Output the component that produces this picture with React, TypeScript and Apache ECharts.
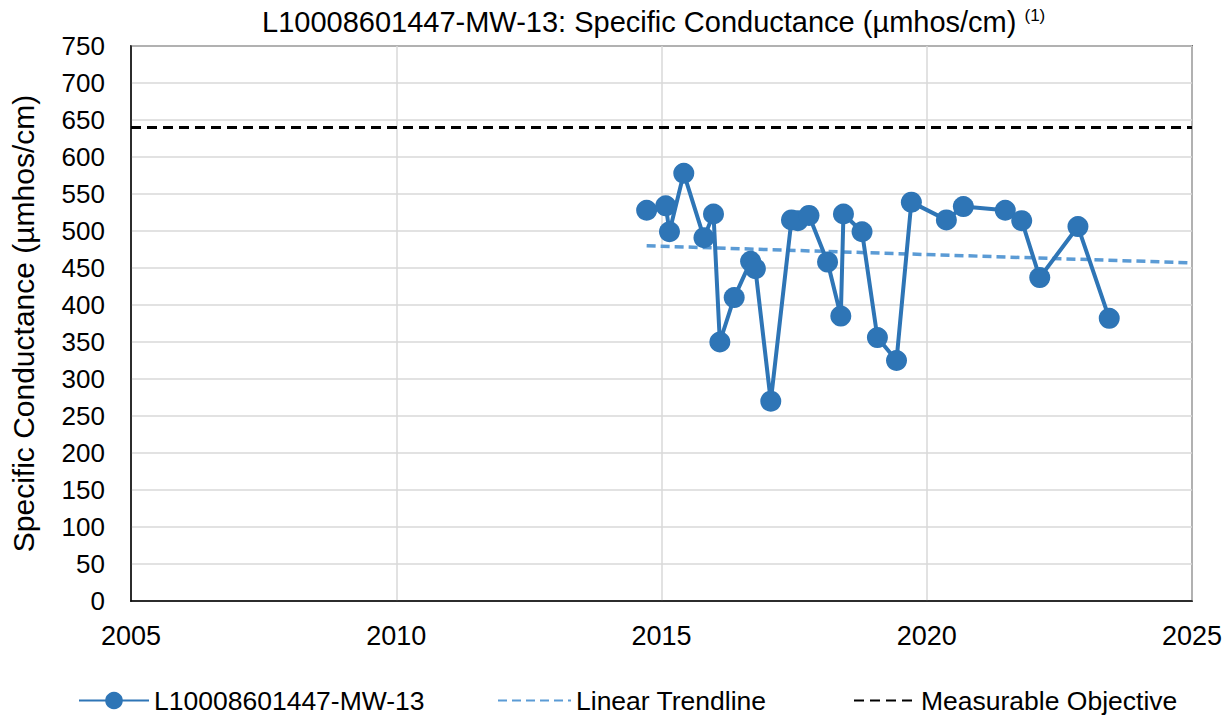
import React, { useEffect, useRef } from "react";
import * as echarts from "echarts";

const seriesName = "L10008601447-MW-13";
const years: number[] = [
  2014.72, 2015.08, 2015.15, 2015.42, 2015.8, 2015.98, 2016.1, 2016.37, 2016.68, 2016.77,
  2017.06, 2017.45, 2017.57, 2017.78, 2018.13, 2018.38, 2018.43, 2018.78, 2019.07, 2019.43,
  2019.71, 2020.37, 2020.69, 2021.48, 2021.79, 2022.13, 2022.85, 2023.44,
];
const values: number[] = [
  528, 534, 499, 578, 491, 523, 350, 410, 459, 449,
  270, 515, 514, 521, 458, 385, 523, 499, 356, 325,
  539, 515, 533, 528, 514, 437, 506, 382,
];
const trendYears: number[] = [2014.72, 2025];
const trendValues: number[] = [480, 457];
const objectiveYears: number[] = [2005, 2025];
const objectiveValues: number[] = [640, 640];

const FONT = "Liberation Sans, Arial, sans-serif";

export default function App() {
  const ref = useRef<HTMLDivElement>(null);
  useEffect(() => {
    if (!ref.current) return;
    const chart = echarts.init(ref.current, undefined, { renderer: "svg" });
    const legendText = { fontFamily: FONT, fontSize: 26.5, color: "#000" };
    chart.setOption({
      animation: false,
      backgroundColor: "#fff",
      textStyle: { fontFamily: FONT },
      title: {
        text: "{m|L10008601447-MW-13: Specific Conductance (µmhos/cm) }{s|(1)}",
        left: 262,
        top: 7,
        padding: 0,
        textStyle: {
          fontWeight: "normal",
          rich: {
            m: { fontFamily: FONT, fontSize: 29, fontWeight: "normal", color: "#000" },
            s: {
              fontFamily: FONT,
              fontSize: 17,
              fontWeight: "normal",
              color: "#000",
              verticalAlign: "top",
              padding: [0, 0, 10, 0],
            },
          },
        },
      },
      grid: {
        left: 131,
        right: 40,
        top: 46,
        bottom: 116,
        show: true,
        borderColor: "#000",
        borderWidth: 1.5,
      },
      xAxis: {
        type: "value",
        min: 2005,
        max: 2025,
        interval: 5,
        axisLine: { show: true, lineStyle: { color: "#000", width: 1.5 } },
        axisTick: { show: false },
        splitLine: { show: true, lineStyle: { color: "#d9d9d9", width: 1.5 } },
        axisLabel: {
          fontFamily: FONT,
          fontSize: 27,
          color: "#000",
          margin: 21,
          formatter: (v: number) => String(v),
        },
      },
      yAxis: {
        type: "value",
        min: 0,
        max: 750,
        interval: 50,
        name: "Specific Conductance (µmhos/cm)",
        nameLocation: "middle",
        nameGap: 93,
        nameTextStyle: { fontFamily: FONT, fontSize: 30, color: "#000" },
        axisLine: { show: true, lineStyle: { color: "#000", width: 1.5 } },
        axisTick: { show: false },
        splitLine: { show: true, lineStyle: { color: "#d9d9d9", width: 1.5 } },
        axisLabel: { fontFamily: FONT, fontSize: 26, color: "#000", margin: 26 },
      },
      legend: [
        {
          data: [seriesName],
          left: 78,
          top: 687,
          padding: 0,
          itemWidth: 70,
          itemHeight: 22,
          textStyle: legendText,
        },
        {
          data: ["Linear Trendline"],
          left: 497,
          top: 687,
          padding: 0,
          itemWidth: 73,
          itemHeight: 22,
          itemStyle: { opacity: 0 },
          textStyle: legendText,
        },
        {
          data: ["Measurable Objective"],
          left: 853,
          top: 687,
          padding: 0,
          itemWidth: 62,
          itemHeight: 22,
          itemStyle: { opacity: 0 },
          textStyle: legendText,
        },
      ],
      series: [
        {
          name: "Measurable Objective",
          type: "line",
          data: objectiveYears.map((x, i) => [x, objectiveValues[i]]),
          showSymbol: false,
          symbol: "none",
          lineStyle: { color: "#000", width: 3, type: [10, 6] },
          itemStyle: { color: "#000" },
          z: 2,
        },
        {
          name: "Linear Trendline",
          type: "line",
          data: trendYears.map((x, i) => [x, trendValues[i]]),
          showSymbol: false,
          symbol: "none",
          lineStyle: { color: "#5b9bd5", width: 3.5, type: [9, 5] },
          itemStyle: { color: "#5b9bd5" },
          z: 3,
        },
        {
          name: seriesName,
          type: "line",
          data: years.map((x, i) => [x, values[i]]),
          symbol: "circle",
          symbolSize: 21,
          lineStyle: { color: "#2e75b6", width: 4 },
          itemStyle: { color: "#2e75b6" },
          z: 4,
        },
      ],
    });
    return () => chart.dispose();
  }, []);
  return (
    <div
      ref={ref}
      style={{ position: "fixed", left: 0, top: 0, width: 1232, height: 717 }}
    />
  );
}
